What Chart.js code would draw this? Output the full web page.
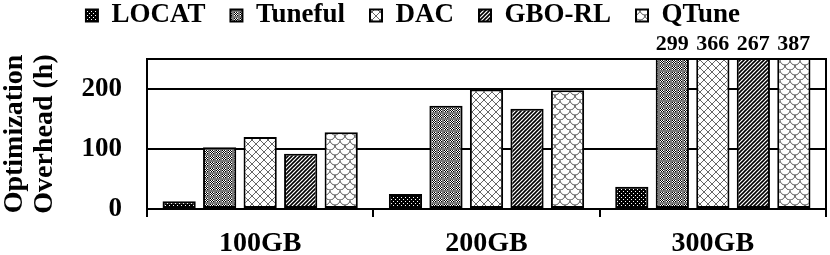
<!DOCTYPE html>
<html>
<head>
<meta charset="utf-8">
<script src="https://cdn.jsdelivr.net/npm/chart.js@4"></script>
<style>
  html, body { margin: 0; padding: 0; background: #fff; }
  canvas { display: block; }
</style>
</head>
<body>
<canvas id="myChart" width="830" height="255"></canvas>
<script>
// Data
const categories = ['100GB', '200GB', '300GB'];
const seriesNames = ['LOCAT', 'Tuneful', 'DAC', 'GBO-RL', 'QTune'];
const locat = [13, 25, 37];
const tuneful = [103, 172, 299];
const dac = [120, 199, 366];
const gboRl = [92, 167, 267];
const qtune = [128, 198, 387];
const yTicks = [0, 100, 200];
const yMax = 250;

const ctx = document.getElementById('myChart');
const g2d = ctx.getContext('2d');
const FONT = "'Liberation Serif', 'Times New Roman', serif";

// Small tiles for the bar fills
const makePattern = (w, h, draw) => {
    const c = document.createElement('canvas');
    c.width = w;
    c.height = h;
    const t = c.getContext('2d');
    t.fillStyle = '#fff';
    t.fillRect(0, 0, w, h);
    draw(t);
    return g2d.createPattern(c, 'repeat');
};

// black with white dots
const patLocat = makePattern(4, 4, t => {
    t.fillStyle = '#000';
    t.fillRect(0, 0, 4, 4);
    t.fillStyle = '#fff';
    t.fillRect(1, 1, 1, 1);
    t.fillRect(3, 3, 1, 1);
});

// gray checker
const patTuneful = makePattern(6, 6, t => {
    t.fillStyle = '#7a7a7a';
    t.fillRect(0, 0, 6, 6);
    for (let y = 0; y < 4; y++) {
        for (let x = 0; x < 4; x++) {
            t.fillStyle = (x + y) % 2 ? '#fff' : '#000';
            t.fillRect(x, y, 1, 1);
        }
    }
});

// diamond lattice
const patDac = makePattern(8, 8, t => {
    t.strokeStyle = '#666';
    t.lineWidth = 1;
    t.beginPath();
    t.moveTo(0, 0); t.lineTo(8, 8);
    t.moveTo(8, 0); t.lineTo(0, 8);
    t.stroke();
});

// dark diagonal stripes
const patGbo = makePattern(4, 4, t => {
    t.strokeStyle = '#000';
    t.lineWidth = 1.6;
    t.beginPath();
    t.moveTo(0, 4); t.lineTo(4, 0);
    t.moveTo(-1, 1); t.lineTo(1, -1);
    t.moveTo(3, 5); t.lineTo(5, 3);
    t.stroke();
});

// fish scales
const patQtune = makePattern(10, 10, t => {
    t.strokeStyle = '#555';
    t.lineWidth = 1;
    t.beginPath();
    t.arc(5, 0, 5, 0, Math.PI);
    t.stroke();
    t.beginPath();
    t.arc(0, 5, 5, 0, Math.PI);
    t.stroke();
    t.beginPath();
    t.arc(10, 5, 5, 0, Math.PI);
    t.stroke();
});

const seriesData = [locat, tuneful, dac, gboRl, qtune];
const fills = [patLocat, patTuneful, patDac, patGbo, patQtune];

// Frame around the plot
const framePlugin = {
    id: 'frame',
    afterDatasetsDraw(chart) {
        const a = chart.chartArea;
        const c = chart.ctx;
        c.save();
        c.strokeStyle = '#000';
        c.lineWidth = 2;
        c.strokeRect(a.left, a.top, a.right - a.left, a.bottom - a.top);
        c.restore();
    }
};

// Values of the bars cut by the top of the axis
const overLabels = {
    id: 'overLabels',
    afterDatasetsDraw(chart) {
        const c = chart.ctx;
        c.save();
        c.font = 'bold 22px ' + FONT;
        c.fillStyle = '#000';
        c.textAlign = 'center';
        c.textBaseline = 'middle';
        chart.data.datasets.forEach((ds, i) => {
            chart.getDatasetMeta(i).data.forEach((bar, j) => {
                if (ds.data[j] > yMax) {
                    c.fillText(ds.data[j], bar.x, chart.chartArea.top - 15);
                }
            });
        });
        c.restore();
    }
};

// Legend strip reaches down to the top of the plot
// (layout padding is negative to cancel the legend's vertical padding)
const legendHeight = {
    id: 'legendHeight',
    beforeInit(chart) {
        const fit = chart.legend.fit;
        chart.legend.fit = function () {
            fit.call(this);
            this.height = 82;
        };
    }
};

new Chart(ctx, {
    type: 'bar',
    data: {
        labels: categories,
        datasets: seriesNames.map((name, i) => ({
            label: name,
            data: seriesData[i],
            backgroundColor: fills[i],
            borderColor: '#000',
            borderWidth: 2,
            borderSkipped: false,
            categoryPercentage: 0.895,
            barPercentage: 0.82
        }))
    },
    options: {
        responsive: false,
        animation: false,
        devicePixelRatio: 1,
        layout: { padding: { left: 0, right: 4, top: -23, bottom: 0 } },
        plugins: {
            legend: {
                position: 'top',
                labels: {
                    boxWidth: 12,
                    boxHeight: 12,
                    padding: 25,
                    color: '#000',
                    font: { family: FONT, size: 27, weight: 'bold' }
                }
            },
            tooltip: { enabled: false }
        },
        scales: {
            x: {
                grid: {
                    offset: true,
                    drawOnChartArea: false,
                    color: '#000',
                    lineWidth: 2,
                    tickLength: 8
                },
                border: { color: '#000', width: 2 },
                ticks: {
                    color: '#000',
                    padding: 10,
                    font: { family: FONT, size: 28, weight: 'bold' }
                },
                afterFit(scale) { scale.height = 46; }
            },
            y: {
                min: 0,
                max: yMax,
                afterBuildTicks(scale) {
                    scale.ticks = yTicks.map(v => ({ value: v }));
                },
                grid: { color: '#000', lineWidth: 2, drawTicks: false },
                border: { color: '#000', width: 2 },
                ticks: {
                    color: '#000',
                    padding: 25,
                    font: { family: FONT, size: 27, weight: 'bold' }
                },
                title: {
                    display: true,
                    text: ['Optimization', 'Overhead (h)'],
                    color: '#000',
                    padding: { top: 0, bottom: 0 },
                    font: { family: FONT, size: 28, weight: 'bold', lineHeight: 1.07 }
                },
                afterFit(scale) { scale.width = 147; }
            }
        }
    },
    plugins: [legendHeight, framePlugin, overLabels]
});
</script>
</body>
</html>
